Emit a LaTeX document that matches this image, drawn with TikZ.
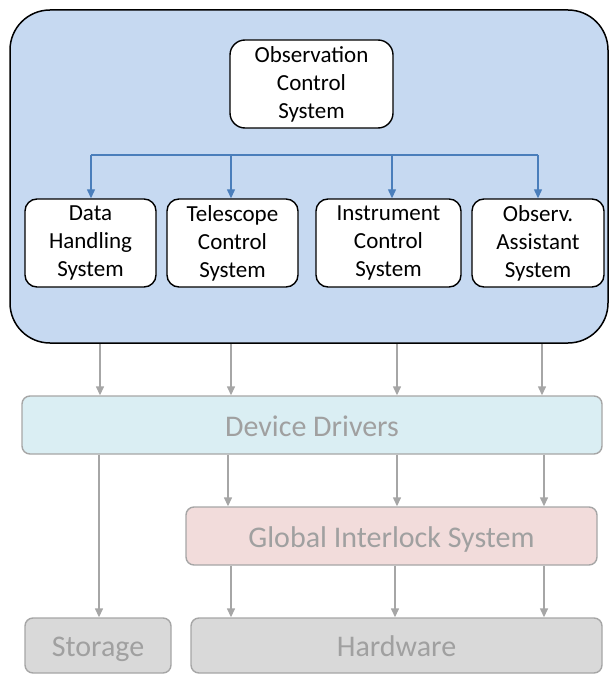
\documentclass[tikz,border=0pt]{standalone}
\usepackage{fontspec}
\setmainfont{Carlito}
\usetikzlibrary{arrows.meta}
\definecolor{bigblue}{HTML}{C6D9F1}
\definecolor{lineblue}{HTML}{4A7EBB}
\definecolor{grayline}{HTML}{A6A6A6}
\definecolor{graytext}{HTML}{A0A0A0}
\definecolor{ddfill}{HTML}{DAEEF3}
\definecolor{gisfill}{HTML}{F2DCDB}
\definecolor{hwfill}{HTML}{D9D9D9}
\tikzset{
  whitebox/.style={draw=black, line width=1.4pt, fill=white, rounded corners=12pt, inner sep=0pt,
    align=center, font=\fontsize{23}{28}\selectfont, minimum height=88pt},
  graybox/.style={draw=grayline, line width=1.4pt, rounded corners=8pt, inner sep=0pt,
    text=graytext, font=\fontsize{30}{34}\selectfont, text height=22pt, text depth=0pt},
  bluearrow/.style={draw=lineblue, line width=1.3pt, -{Triangle[length=9pt,width=8pt]}},
  grayarrow/.style={draw=grayline, line width=1.4pt, -{Triangle[length=9pt,width=8pt]}},
}
\begin{document}
\begin{tikzpicture}[x=1pt,y=-1pt]
\useasboundingbox (0,0) rectangle (610,674);
% big box
\node[draw=black, line width=1.5pt, fill=bigblue, rounded corners=40pt, inner sep=0pt,
  minimum width=598pt, minimum height=333pt] (main) at (309,176.5) {};
% top nodes
\node[whitebox, minimum width=163pt, rounded corners=15pt] (ocs) at (311.5,84) {Observation\\Control\\System};
\node[whitebox, minimum width=131pt] (dh) at (90.5,243) {Data\\Handling\\System};
\node[whitebox, minimum width=131pt] (tcs) at (232.5,243) {Telescope\\Control\\System};
\node[whitebox, minimum width=145pt] (ics) at (388.5,243) {Instrument\\Control\\System};
\node[whitebox, minimum width=132pt] (oas) at (538,243) {Observ.\\Assistant\\System};
% blue bus
\coordinate (b1) at (91,155);
\coordinate (b2) at (231,155);
\coordinate (b3) at (392,155);
\coordinate (b4) at (538,155);
\draw[draw=lineblue, line width=1.3pt] (b1) -- (b4);
\draw[bluearrow] (b1) -- (b1 |- dh.north);
\draw[bluearrow] (b2) -- (b2 |- tcs.north);
\draw[bluearrow] (b3) -- (b3 |- ics.north);
\draw[bluearrow] (b4) -- (b4 |- oas.north);
% lower nodes
\node[graybox, fill=ddfill, minimum width=580pt, minimum height=58pt] (dd) at (312,425) {Device Drivers};
\node[graybox, fill=gisfill, minimum width=411pt, minimum height=58pt] (gis) at (391.5,536) {Global Interlock System};
\node[graybox, fill=hwfill, minimum width=146pt, minimum height=55pt] (st) at (98,645.5) {Storage};
\node[graybox, fill=hwfill, minimum width=411pt, minimum height=55pt] (hw) at (396.5,645.5) {Hardware};
% gray arrows: main -> dd
\coordinate (a1) at (100,0);
\coordinate (a2) at (231,0);
\coordinate (a3) at (397,0);
\coordinate (a4) at (542,0);
\draw[grayarrow] (main.south -| a1) -- (dd.north -| a1);
\draw[grayarrow] (main.south -| a2) -- (dd.north -| a2);
\draw[grayarrow] (main.south -| a3) -- (dd.north -| a3);
\draw[grayarrow] (main.south -| a4) -- (dd.north -| a4);
% dd -> gis, storage
\coordinate (c0) at (99,0);
\coordinate (c1) at (228,0);
\coordinate (c2) at (397,0);
\coordinate (c3) at (544,0);
\draw[grayarrow] (dd.south -| c0) -- (st.north -| c0);
\draw[grayarrow] (dd.south -| c1) -- (gis.north -| c1);
\draw[grayarrow] (dd.south -| c2) -- (gis.north -| c2);
\draw[grayarrow] (dd.south -| c3) -- (gis.north -| c3);
% gis -> hw
\coordinate (d1) at (231,0);
\coordinate (d2) at (395,0);
\coordinate (d3) at (544,0);
\draw[grayarrow] (gis.south -| d1) -- (hw.north -| d1);
\draw[grayarrow] (gis.south -| d2) -- (hw.north -| d2);
\draw[grayarrow] (gis.south -| d3) -- (hw.north -| d3);
\end{tikzpicture}
\end{document}
